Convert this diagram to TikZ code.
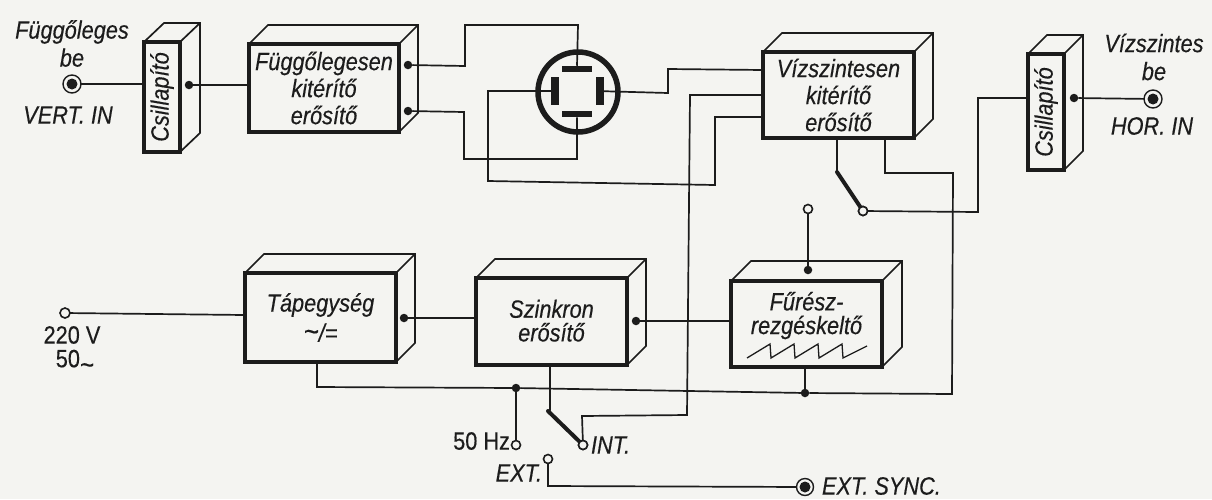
\documentclass[tikz,border=0pt]{standalone}
\usepackage{fontspec}
\usepackage{graphicx}
\setmainfont{Liberation Sans}[FakeStretch=0.87,FakeBold=0.35]
\definecolor{paper}{HTML}{F4F4F1}
\definecolor{ink}{HTML}{1C1C1C}
\tikzset{
  wire/.style={draw=ink,line width=1.7pt,line join=miter},
  thinedge/.style={draw=ink,line width=1.7pt,line join=miter},
  frontbox/.style={draw=ink,line width=4.5pt,fill=paper,inner sep=0pt,outer sep=0pt,align=center,text=ink,
    font=\fontsize{25}{27}\selectfont\itshape},
  dotnode/.style={circle,fill=ink,draw=none,minimum size=8.5pt,inner sep=0pt,outer sep=0pt},
  contact/.style={circle,draw=ink,line width=1.6pt,fill=paper,minimum size=9pt,inner sep=0pt,outer sep=0pt},
  jack/.style={circle,draw=ink,line width=1.4pt,fill=paper,minimum size=18pt,inner sep=0pt,outer sep=0pt,
    path picture={\fill[ink] (path picture bounding box.center) circle (5.5pt);}},
  lab/.style={text=ink,inner sep=0pt,outer sep=0pt,align=center,font=\fontsize{25}{28}\selectfont\itshape},
  labup/.style={text=ink,inner sep=0pt,outer sep=0pt,align=center,font=\fontsize{25}{28}\selectfont},
  platenode/.style={fill=ink,draw=none,inner sep=0pt,outer sep=0pt},
  arm/.style={draw=ink,line width=4pt,line cap=round},
}
\newcommand{\blockbox}[8]{%
  \pgfmathsetmacro{\bw}{#4-#2}\pgfmathsetmacro{\bh}{#5-#3}%
  \pgfmathsetmacro{\bcx}{(#2+#4)/2}\pgfmathsetmacro{\bcy}{(#3+#5)/2}%
  \node[frontbox,minimum width=\bw pt,minimum height=\bh pt] (#1) at (\bcx,\bcy) {#8};
  \draw[thinedge] (#1.north west) -- ++(#6,-#7) -- ++(\bw,0) -- ++(0,\bh) -- (#1.south east);
  \draw[thinedge] (#1.north east) -- ++(#6,-#7);
}
\begin{document}
\begin{tikzpicture}[x=1pt,y=-1pt]
\useasboundingbox[fill=paper] (0,0) rectangle (1212,499);

% blocks
\blockbox{csL}{144}{42}{180}{152}{20}{19}{\rotatebox{90}{Csillapító}}
\blockbox{fver}{249}{44}{399}{132}{19}{19}{Függőlegesen\\kitérítő\\erősítő}
\blockbox{hor}{763}{52}{914}{138}{19}{19}{Vízszintesen\\kitérítő\\erősítő}
\blockbox{csR}{1028}{54}{1064}{170}{19}{19}{\rotatebox{90}{Csillapító}}
\blockbox{tap}{245}{273}{396}{362}{19}{19}{Tápegység\\[3pt]{\fontsize{30}{30}\selectfont\char`\~}/=}
\blockbox{szi}{476}{278}{627}{365}{19}{19}{\raisebox{2pt}{\shortstack{Szinkron\\[2pt]erősítő}}}
\blockbox{fur}{731}{281}{882}{367}{20}{20}{\raisebox{22pt}{\shortstack{Fűrész-\\[2pt]rezgéskeltő}}}
\draw[ink,line width=1.3pt] (747,358) -- (770,344) -- (771,358) -- (794,344) -- (795,358) -- (818,344) -- (819,358) -- (842,344) -- (843,358) -- (867,346);

% tube
\node[circle,draw=ink,line width=5.5pt,minimum size=80pt,inner sep=0pt,outer sep=0pt] (tube) at (578,92) {};
\node[platenode,minimum width=30pt,minimum height=6.5pt] (ptop) at (577,69) {};
\node[platenode,minimum width=30pt,minimum height=6.5pt] (pbot) at (577,114) {};
\node[platenode,minimum width=7.5pt,minimum height=28pt] (plft) at (555,91) {};
\node[platenode,minimum width=7.5pt,minimum height=28pt] (prgt) at (600,91) {};

% terminals
\node[jack] (jv) at (72,84) {};
\node[jack] (jh) at (1153,99) {};
\node[jack,minimum size=17pt] (js) at (805,487) {};
\node[contact,minimum size=10pt] (mains) at (65,313) {};
\node[contact] (c50) at (516,445) {};
\node[contact] (cint) at (583,445) {};
\node[contact] (cext) at (548,459) {};
\node[contact] (ctop) at (808,209) {};
\node[contact] (csw) at (863,211) {};

% dots
\node[dotnode] (dcsL) at (189,85) {};
\node[dotnode] (dv1) at (408,65) {};
\node[dotnode] (dv2) at (408,111) {};
\node[dotnode] (dcsR) at (1074,98) {};
\node[dotnode] (dtap) at (404,318) {};
\node[dotnode] (dszi) at (636,321) {};
\node[dotnode] (dfurT) at (808,270) {};
\node[dotnode] (dbus1) at (516,388) {};
\node[dotnode] (dbus2) at (805,393) {};
\coordinate (pivH) at (837,172);
\coordinate (pivS) at (548,411);

% wires, upper part
\draw[wire] (jv) -- (csL.west |- jv);
\draw[wire] (dcsL) -- (fver.west |- dcsL);
\draw[wire] (dv1) -- (465,66) -- (465,25) -- (578,25) -- (ptop.north);
\draw[wire] (dv2) -- (464,112) -- (464,159) -- (577,159) -- (pbot.south);
\draw[wire] (plft.east) -- (488,91) -- (488,181) -- (715,185) -- (715,117) -- (hor.west |- 0,117);
\draw[wire] (prgt.west) -- (668,93) -- (668,69) -- (hor.west |- 0,70);
\draw[wire] (hor.west |- 0,95) -- (690,95) -- (687,415) -- (582,416) -- (cint);
\draw[wire] (hor.south -| pivH) -- (pivH);
\draw[arm] (pivH) -- (csw);
\draw[wire] (csw) -- (978,212) -- (978,98) -- (csR.west |- 0,98);
\draw[wire] (dcsR) -- (jh);
\draw[wire] (hor.south -| 885,0) -- (885,173) -- (953,173) -- (952,394) -- (dbus2);
\draw[wire] (ctop) -- (dfurT);

% wires, lower part
\draw[wire] (mains) -- (tap.west |- 0,315);
\draw[wire] (dtap) -- (szi.west |- dtap);
\draw[wire] (dszi) -- (fur.west |- dszi);
\draw[wire] (tap.south -| 317,0) -- (317,387) -- (dbus1);
\draw[wire] (dbus1) -- (dbus2);
\draw[wire] (fur.south -| dbus2) -- (dbus2);
\draw[wire] (dbus1) -- (c50);
\draw[wire] (szi.south -| 550,0) -- (550,410) -- (pivS);
\draw[arm] (pivS) -- (cint);
\draw[wire] (cext) -- (548,486) -- (js);
\node[contact] at (cint) {};
\node[contact] at (csw) {};

% labels
\node[lab] (tv) at (72,43.5) {Függőleges\\be};
\node[lab] (tvi) at (68,115) {VERT. IN};
\node[lab] (th) at (1154,57) {Vízszintes\\be};
\node[lab] (thi) at (1152,126) {HOR. IN};
\node[labup] (t220) at (72,335) {220 V};
\node[labup] (t50) at (75,362) {50\raisebox{-7pt}{\fontsize{28}{28}\selectfont\char`\~}};
\node[labup,anchor=east] (t50h) at (510,441) {50 Hz};
\node[lab,anchor=west] (tint) at (591,445) {INT.};
\node[lab,anchor=east] (text) at (542,473) {EXT.};
\node[lab,anchor=west] (tsync) at (822,486) {EXT. SYNC.};
\end{tikzpicture}
\end{document}
